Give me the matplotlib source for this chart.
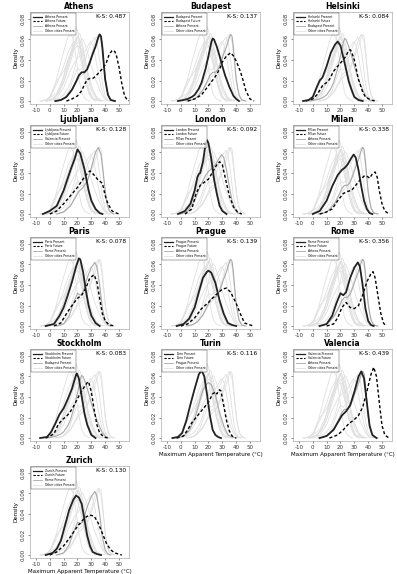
import numpy as np
import matplotlib
matplotlib.use("Agg")
import matplotlib.pyplot as plt
from matplotlib.lines import Line2D

# density curves, (temperature, density)
athens_now = [(4, 0), (8, .001), (12, .004), (16, .011), (19, .019), (21, .025), (23, .028), (25, .028), (27, .031),
              (29, .038), (31, .046), (33, .053), (35, .062), (36, .065), (37, .063), (38, .052), (39, .036),
              (40, .021), (42, .006), (44, .001), (47, 0)]
athens_fut = [(12, 0), (16, .002), (20, .005), (23, .010), (25, .016), (27, .021), (29, .022), (31, .022), (33, .024),
              (35, .027), (37, .030), (39, .033), (41, .038), (43, .046), (45, .049), (46, .0495), (47, .048),
              (48, .045), (50, .033), (52, .017), (54, .005), (56, .001), (58, 0)]
budapest_now = [(-2, 0), (2, .001), (5, .002), (8, .004), (10, .006), (13, .012), (15, .018), (18, .032), (20, .044),
                (22, .057), (23, .061), (24, .060), (26, .053), (28, .044), (30, .034), (32, .025), (35, .014),
                (38, .005), (40, .002), (42, 0)]
budapest_fut = [(5, 0), (10, .002), (15, .006), (20, .015), (25, .024), (28, .031), (30, .038), (33, .044), (35, .046),
                (36, .047), (38, .044), (40, .039), (43, .029), (45, .020), (47, .010), (50, .002), (53, 0)]
helsinki_now = [(-7, 0), (-3, .001), (0, .004), (3, .014), (5, .020), (7, .023), (10, .034), (13, .047), (16, .055),
                (18, .058), (20, .054), (23, .037), (26, .019), (28, .011), (30, .004), (33, .001), (36, 0)]
helsinki_fut = [(-5, 0), (0, .002), (3, .006), (7, .015), (10, .018), (12, .021), (15, .029), (18, .034), (20, .037),
                (23, .042), (26, .049), (27, .050), (28, .048), (30, .040), (33, .021), (36, .009), (38, .004),
                (42, .001), (45, 0)]
ljubljana_now = [(-5, 0), (0, .003), (5, .008), (10, .023), (15, .043), (18, .054), (20, .063), (22, .059), (25, .044),
                 (28, .023), (30, .013), (33, .005), (36, .001), (38, 0)]
ljubljana_fut = [(0, 0), (5, .003), (10, .010), (15, .018), (20, .026), (25, .036), (28, .041), (29, .042), (32, .038),
                 (35, .033), (38, .030), (40, .018), (42, .010), (45, .003), (48, .001), (50, 0)]
london_now = [(-2, 0), (3, .003), (7, .010), (10, .023), (12, .036), (13, .039), (14, .040), (16, .051), (18, .069),
              (19, .072), (20, .069), (22, .054), (24, .034), (26, .020), (28, .008), (30, .003), (33, 0)]
london_fut = [(3, 0), (8, .005), (11, .020), (14, .028), (17, .031), (20, .034), (23, .041), (26, .048), (28, .051),
              (30, .048), (32, .036), (35, .018), (38, .007), (41, .002), (44, 0)]
milan_now = [(0, 0), (5, .003), (10, .013), (14, .027), (18, .038), (21, .043), (23, .045), (25, .048), (28, .055),
             (29.5, .058), (31, .055), (33, .043), (35, .027), (37, .013), (39, .005), (41, .001), (43, 0)]
milan_fut = [(5, 0), (10, .002), (14, .005), (18, .013), (22, .020), (25, .022), (28, .023), (31, .028), (34, .033),
             (37, .037), (39, .037), (41, .035), (43, .039), (45, .041), (46.5, .036), (48, .023), (50, .010),
             (52, .003), (55, 0)]
paris_now = [(-3, 0), (3, .002), (7, .010), (10, .018), (13, .030), (16, .043), (19, .058), (21, .066), (22, .065),
             (24, .053), (26, .035), (28, .020), (30, .010), (33, .003), (36, 0)]
paris_fut = [(3, 0), (8, .003), (12, .012), (16, .020), (20, .027), (23, .030), (26, .037), (29, .047), (31, .049),
             (32, .050), (34, .043), (36, .027), (38, .012), (40, .005), (43, .001), (47, 0)]
prague_now = [(-3, 0), (2, .002), (6, .007), (10, .018), (13, .033), (16, .047), (19, .053), (20, .054), (22, .052),
              (25, .042), (28, .025), (31, .012), (34, .003), (37, .001), (40, 0)]
prague_fut = [(0, 0), (5, .002), (10, .008), (15, .017), (20, .023), (25, .030), (30, .036), (33, .037), (36, .033),
              (40, .022), (43, .012), (46, .003), (50, .001), (53, 0)]
rome_now = [(5, 0), (10, .002), (14, .010), (17, .022), (20, .032), (22, .030), (24, .033), (27, .047), (30, .057),
            (32.5, .062), (34, .058), (36, .040), (38, .017), (40, .005), (42, .001), (44, 0)]
rome_fut = [(10, 0), (15, .002), (18, .008), (21, .018), (24, .023), (27, .018), (30, .017), (33, .020), (36, .030),
            (39, .043), (42, .051), (43.5, .053), (45, .047), (47, .030), (49, .013), (51, .003), (53, 0)]
stockholm_now = [(-7, 0), (-2, .001), (1, .006), (4, .014), (7, .023), (10, .029), (13, .038), (16, .048), (19, .062),
                 (19.5, .063), (21, .058), (23, .041), (25, .024), (27, .013), (30, .003), (33, 0)]
stockholm_fut = [(-3, 0), (3, .004), (6, .013), (9, .018), (12, .021), (15, .026), (18, .033), (21, .041), (24, .048),
                 (27, .054), (28, .055), (30, .045), (32, .028), (34, .013), (36, .005), (39, .001), (42, 0)]
turin_now = [(-6, 0), (-2, .001), (1, .005), (4, .017), (7, .033), (10, .048), (13, .062), (15, .066), (17, .060),
             (19, .042), (21, .022), (23, .008), (25, .003), (27, .001), (29, 0)]
turin_fut = [(-3, 0), (2, .002), (5, .008), (8, .015), (11, .020), (14, .025), (17, .030), (20, .035), (23, .043),
             (25, .045), (26, .043), (28, .047), (29, .046), (31, .032), (33, .017), (35, .007), (37, .002), (40, 0)]
valencia_now = [(5, 0), (10, .002), (15, .008), (18, .015), (21, .022), (24, .026), (27, .032), (30, .045), (33, .060),
                (35, .065), (37, .058), (39, .035), (41, .012), (43, .003), (46, 0)]
valencia_fut = [(12, 0), (18, .003), (22, .008), (26, .014), (30, .018), (33, .022), (36, .030), (39, .045), (42, .062),
                (44, .069), (46, .060), (48, .035), (50, .012), (52, .003), (55, 0)]
zurich_now = [(-3, 0), (2, .002), (5, .006), (8, .014), (11, .029), (14, .044), (17, .054), (19, .058), (21, .056),
              (23, .050), (25, .035), (27, .019), (29, .009), (31, .003), (34, .001), (37, 0)]
zurich_fut = [(0, 0), (5, .003), (10, .009), (15, .018), (20, .028), (25, .036), (28.5, .039), (32, .038), (35, .031),
              (38, .021), (41, .011), (44, .005), (47, .002), (52, 0)]

cities = ["Athens", "Budapest", "Helsinki", "Ljubljana", "London", "Milan", "Paris",
          "Prague", "Rome", "Stockholm", "Turin", "Valencia", "Zurich"]
ks_values = ["0.487", "0.137", "0.084", "0.128", "0.092", "0.338", "0.078",
             "0.139", "0.356", "0.083", "0.116", "0.439", "0.130"]
analogues = ["Athens", "Athens", "Budapest", "Valencia", "Milan", "Athens", "Rome",
             "Athens", "Athens", "Budapest", "Prague", "Athens", "Rome"]

present = dict(zip(cities, [athens_now, budapest_now, helsinki_now, ljubljana_now, london_now, milan_now,
                            paris_now, prague_now, rome_now, stockholm_now, turin_now, valencia_now, zurich_now]))
future = dict(zip(cities, [athens_fut, budapest_fut, helsinki_fut, ljubljana_fut, london_fut, milan_fut,
                           paris_fut, prague_fut, rome_fut, stockholm_fut, turin_fut, valencia_fut, zurich_fut]))

xticks = [-10, 0, 10, 20, 30, 40, 50]
yticks = [0.00, 0.02, 0.04, 0.06, 0.08]
xlabel_text = "Maximum Apparent Temperature (\u00b0C)"

W, H = 397, 574
col_off = [0, 131, 263]
row_top = [0, 113, 225, 337, 454]

fig = plt.figure(figsize=(W / 100, H / 100), dpi=100)


def curve(pts):
    a = np.array(pts, dtype=float)
    return a[:, 0], a[:, 1]


for i, city in enumerate(cities):
    r, c = divmod(i, 3)
    left = col_off[c] + 30
    top = row_top[r] + 12
    ax = fig.add_axes([left / W, 1 - (top + 92) / H, 99 / W, 92 / H])

    # other cities in light grey, analogue city a bit darker
    for other in cities:
        if other == city or other == analogues[i]:
            continue
        x, y = curve(present[other])
        ax.plot(x, y, color="#e0e0e0", lw=0.6)
    x, y = curve(present[analogues[i]])
    ax.plot(x, y, color="#a8a8a8", lw=0.8)
    x, y = curve(future[city])
    ax.plot(x, y, color="black", lw=1.0, ls=(0, (2.2, 1.6)))
    x, y = curve(present[city])
    ax.plot(x, y, color="#222222", lw=1.3)

    ax.set_xlim(-14.3, 57.2)
    ax.set_ylim(-0.0029, 0.0868)
    ax.set_xticks(xticks)
    ax.set_xticklabels([str(t) for t in xticks], fontsize=4)
    ax.set_yticks(yticks)
    ax.set_yticklabels(["%.2f" % t for t in yticks], fontsize=4, rotation=90, va="center")
    ax.tick_params(length=1.5, width=0.4, pad=1.5, colors="#333333")
    for s in ax.spines.values():
        s.set_linewidth(0.4)
        s.set_color("#9a9a9a")
    ax.set_ylabel("Density", fontsize=4, labelpad=2)
    ax.set_title(city, fontsize=5.5, fontweight="bold", pad=2.5)
    if city in ("Turin", "Valencia", "Zurich"):
        ax.set_xlabel(xlabel_text, fontsize=4, labelpad=1.5)

    ax.text(0.97, 0.95, "K-S: " + ks_values[i], transform=ax.transAxes,
            ha="right", va="center", fontsize=4.3)

    handles = [Line2D([], [], color="#222222", lw=0.9),
               Line2D([], [], color="black", lw=0.8, ls=(0, (2.0, 1.4))),
               Line2D([], [], color="#a8a8a8", lw=0.6),
               Line2D([], [], color="#dcdcdc", lw=0.5)]
    labels = [city + " Present", city + " Future", analogues[i] + " Present", "Other cities Present"]
    leg = ax.legend(handles, labels, loc="upper left", fontsize=2.2, frameon=True, fancybox=False,
                    borderpad=0.6, handlelength=3.2, handletextpad=0.8, labelspacing=0.25,
                    borderaxespad=0.25)
    leg.get_frame().set_edgecolor("black")
    leg.get_frame().set_linewidth(0.3)

fig.savefig("out.png", dpi=100)
